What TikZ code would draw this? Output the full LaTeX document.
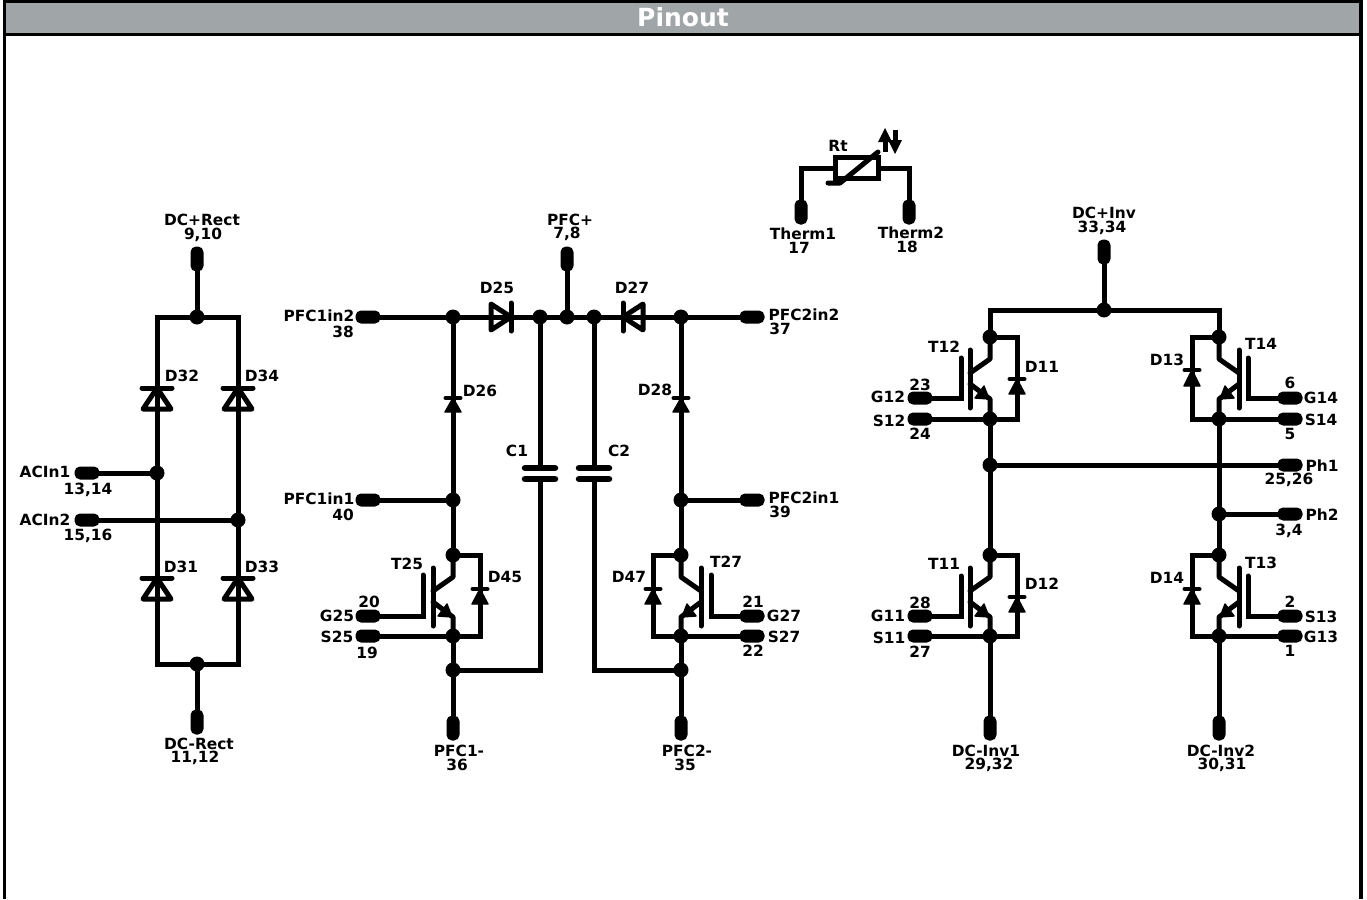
\documentclass[tikz,border=0pt]{standalone}
\usepackage{fontspec}
\setmainfont{DejaVu Sans}
\usetikzlibrary{calc}
\definecolor{hdr}{RGB}{160,165,167}
\tikzset{
  x=1pt,y=-1pt,
  wire/.style={line width=5pt,line cap=round,line join=miter},
  junc/.style={circle,fill=black,inner sep=0pt,minimum size=15pt},
  pinh/.style={rectangle,rounded corners=5.5pt,fill=black,inner sep=0pt,minimum width=25pt,minimum height=13pt},
  pinv/.style={rectangle,rounded corners=5.5pt,fill=black,inner sep=0pt,minimum width=13pt,minimum height=25pt},
  lbl/.style={font=\fontsize{15.4}{15}\selectfont\bfseries,inner sep=0pt,text=black},
}
% big hollow diode, vertical: x, y of bar, y of base
\newcommand{\bigdiode}[3]{%
  \draw[line width=5pt,line cap=round] (#1-15,#2)--(#1+15,#2);
  \draw[line width=5pt,line join=round,line cap=round] (#1,#2)--(#1-14,#3)--(#1+14,#3)--cycle;
}
% small filled diode, vertical
\newcommand{\smdiode}[3]{%
  \draw[line width=4pt,line cap=round] (#1-7.5,#2)--(#1+7.5,#2);
  \fill[line join=round,draw=black,line width=1.4pt] (#1,#2)--(#1-8,#3)--(#1+8,#3)--cycle;
}
% IGBT: x, y top, dir (-1 gate on the left, 1 gate on the right)
\newcommand{\igbt}[3]{%
  \begin{scope}[shift={(#1,#2)},xscale=#3]
    \draw[wire,line join=round] (0,0)--(0,22)--(20,36);
    \draw[wire] (20,13)--(20,71);
    \draw[wire,line join=round] (20,47)--(0,62)--(0,81);
    \fill[line join=round,draw=black,line width=1.4pt] (1,62)--(15,61)--(6,49)--cycle;
  \end{scope}%
}
\begin{document}
\begin{tikzpicture}
\useasboundingbox (0,0) rectangle (1367,899);
% frame and header
\fill[black] (2.5,0) rectangle (1362.5,36);
\fill[hdr] (6,3) rectangle (1359,33);
\draw[line width=3.8pt] (4.4,30)--(4.4,899);
\draw[line width=3.8pt] (1360.6,30)--(1360.6,899);
\node[font=\fontsize{25}{25}\selectfont\bfseries,text=white,inner sep=0pt] (title) at (683,17) {Pinout};

% ---------- rectifier ----------
\node[junc] (rt) at (197,317) {};
\node[junc] (rb) at (197,664) {};
\node[junc] (a1) at (157,473) {};
\node[junc] (a2) at (238,520) {};
\node[pinv] (pdcp) at (197,259) {};
\node[pinv] (pdcm) at (197,722) {};
\node[pinh] (pac1) at (87,473) {};
\node[pinh] (pac2) at (87,520) {};
\draw[wire] (pdcp)--(rt);
\draw[wire] (pdcm)--(rb);
\draw[wire] (rb)-|(a1)|-(rt);
\draw[wire] (rb)-|(a2)|-(rt);
\draw[wire] (pac1)--(a1);
\draw[wire] (pac2)--(a2);
\bigdiode{157}{388}{409}
\bigdiode{238}{388}{409}
\bigdiode{157}{578}{599}
\bigdiode{238}{578}{599}
\node[lbl] at (202,220) {DC+Rect};
\node[lbl] at (203,235) {9,10};
\node[lbl] at (199,744) {DC-Rect};
\node[lbl] at (195,758) {11,12};
\node[lbl] at (45,472) {ACIn1};
\node[lbl] at (88,490) {13,14};
\node[lbl] at (45,520) {ACIn2};
\node[lbl] at (88,536) {15,16};
\node[lbl] at (182,376) {D32};
\node[lbl] at (262,376) {D34};
\node[lbl] at (181,567) {D31};
\node[lbl] at (262,567) {D33};

% ---------- PFC ----------
\node[junc] (j1) at (453,317) {};
\node[junc] (j2) at (540,317) {};
\node[junc] (j3) at (567,317) {};
\node[junc] (j4) at (594,317) {};
\node[junc] (j5) at (681,317) {};
\node[junc] (k1) at (453,500) {};
\node[junc] (k2) at (681,500) {};
\node[junc] (t25t) at (453,555) {};
\node[junc] (t25b) at (453,636) {};
\node[junc] (m1) at (453,670) {};
\node[junc] (t27t) at (681,555) {};
\node[junc] (t27b) at (681,636) {};
\node[junc] (m2) at (681,670) {};
\node[pinh] (p38) at (368,317) {};
\node[pinh] (p37) at (752,317) {};
\node[pinv] (pp) at (567,259) {};
\node[pinh] (p40) at (368,500) {};
\node[pinh] (p39) at (752,500) {};
\node[pinh] (g25) at (368,616) {};
\node[pinh] (s25) at (368,636) {};
\node[pinh] (g27) at (752,616) {};
\node[pinh] (s27) at (752,636) {};
\node[pinv] (p36) at (453,728) {};
\node[pinv] (p35) at (681,728) {};
\draw[wire] (p38)--(p37);
\draw[wire] (pp)--(j3);
\draw[wire] (j1)--(t25t);
\draw[wire] (j5)--(t27t);
\draw[wire] (p40)--(k1);
\draw[wire] (p39)--(k2);
\draw[wire] (t25b)--(p36);
\draw[wire] (t27b)--(p35);
\draw[wire] (s25)--(t25b);
\draw[wire] (s27)--(t27b);
\draw[wire] (t25t)-|(480,636)--(t25b);
\draw[wire] (t27t)-|(653,636)--(t27b);
\igbt{453}{555}{-1}
\igbt{681}{555}{1}
\draw[wire] (g25)-|(423,575);
\draw[wire] (g27)-|(711,575);
\draw[wire] (j2)--(540,468);
\draw[wire] (540,479)--(540,670)--(m1);
\draw[wire] (j4)--(594,468);
\draw[wire] (594,479)--(594,670)--(m2);
\draw[line width=6.5pt,line cap=round] (525,468)--(555,468);
\draw[line width=6.5pt,line cap=round] (525,479)--(555,479);
\draw[line width=6.5pt,line cap=round] (579,468)--(609,468);
\draw[line width=6.5pt,line cap=round] (579,479)--(609,479);
% horizontal hollow diodes
\draw[line width=5pt,line cap=round] (511,303)--(511,331);
\draw[line width=5pt,line join=round] (511,317)--(491,304)--(491,330)--cycle;
\draw[line width=5pt,line cap=round] (623,303)--(623,331);
\draw[line width=5pt,line join=round] (623,317)--(643,304)--(643,330)--cycle;
\smdiode{453}{398}{412}
\smdiode{681}{398}{412}
\smdiode{480}{589}{604}
\smdiode{653}{589}{604}
\node[lbl] at (497,288) {D25};
\node[lbl] at (632,288) {D27};
\node[lbl] at (570,220) {PFC+};
\node[lbl] at (567,234) {7,8};
\node[lbl] at (319,316) {PFC1in2};
\node[lbl] at (343,332) {38};
\node[lbl] at (804,315) {PFC2in2};
\node[lbl] at (780,329) {37};
\node[lbl] at (480,391) {D26};
\node[lbl] at (655,390) {D28};
\node[lbl] at (517,451) {C1};
\node[lbl] at (619,451) {C2};
\node[lbl] at (319,499) {PFC1in1};
\node[lbl] at (343,515) {40};
\node[lbl] at (804,498) {PFC2in1};
\node[lbl] at (780,512) {39};
\node[lbl] at (407,564) {T25};
\node[lbl] at (505,577) {D45};
\node[lbl] at (629,577) {D47};
\node[lbl] at (726,562) {T27};
\node[lbl] at (369,602) {20};
\node[lbl] at (337,616) {G25};
\node[lbl] at (337,637) {S25};
\node[lbl] at (367,653) {19};
\node[lbl] at (753,602) {21};
\node[lbl] at (784,616) {G27};
\node[lbl] at (784,637) {S27};
\node[lbl] at (753,651) {22};
\node[lbl] at (459,751) {PFC1-};
\node[lbl] at (457,765) {36};
\node[lbl] at (687,751) {PFC2-};
\node[lbl] at (685,765) {35};

% ---------- thermistor ----------
\node[pinv] (p17) at (801,212) {};
\node[pinv] (p18) at (909,212) {};
\node[draw,line width=5pt,inner sep=0pt,minimum width=43pt,minimum height=21pt] (rt1) at (856.5,168) {};
\draw[wire] (p17)|-(rt1);
\draw[wire] (p18)|-(rt1);
\draw[wire,line join=round] (828,183)--(840,183)--(878,152);
\draw[line width=5pt] (885,152)--(885,138);
\fill (878,142)--(885,128)--(892,142)--cycle;
\draw[line width=5pt] (895,130)--(895,144);
\fill (888,140)--(895,154)--(902,140)--cycle;
\node[lbl] at (838,146) {Rt};
\node[lbl] at (803,234) {Therm1};
\node[lbl] at (799,248) {17};
\node[lbl] at (911,233) {Therm2};
\node[lbl] at (907,247) {18};

% ---------- inverter ----------
\node[junc] (itop) at (1104,310) {};
\node[pinv] (p33) at (1104,252) {};
\node[junc] (t12t) at (990,337) {};
\node[junc] (t12b) at (990,419) {};
\node[junc] (ph1) at (990,465) {};
\node[junc] (t11t) at (990,555) {};
\node[junc] (t11b) at (990,636) {};
\node[junc] (t14t) at (1219,337) {};
\node[junc] (t14b) at (1219,419) {};
\node[junc] (ph2) at (1219,514) {};
\node[junc] (t13t) at (1219,555) {};
\node[junc] (t13b) at (1219,636) {};
\node[pinh] (g12) at (920,398) {};
\node[pinh] (s12) at (920,419) {};
\node[pinh] (g11) at (920,616) {};
\node[pinh] (s11) at (920,636) {};
\node[pinh] (g14) at (1290,398) {};
\node[pinh] (s14) at (1290,419) {};
\node[pinh] (g13) at (1290,616) {};
\node[pinh] (s13) at (1290,636) {};
\node[pinh] (pph1) at (1290,465) {};
\node[pinh] (pph2) at (1290,514) {};
\node[pinv] (p29) at (990,728) {};
\node[pinv] (p30) at (1219,728) {};
\draw[wire] (p33)--(itop);
\draw[wire] (t12t)|-(itop);
\draw[wire] (t14t)|-(itop);
\draw[wire] (t12b)--(t11t);
\draw[wire] (t14b)--(t13t);
\draw[wire] (t11b)--(p29);
\draw[wire] (t13b)--(p30);
\draw[wire] (ph1)--(pph1);
\draw[wire] (ph2)--(pph2);
\draw[wire] (s12)--(t12b);
\draw[wire] (s11)--(t11b);
\draw[wire] (s14)--(t14b);
\draw[wire] (s13)--(t13b);
\draw[wire] (t12t)-|(1017,419)--(t12b);
\draw[wire] (t11t)-|(1017,636)--(t11b);
\draw[wire] (t14t)-|(1192,419)--(t14b);
\draw[wire] (t13t)-|(1192,636)--(t13b);
\igbt{990}{337}{-1}
\igbt{990}{555}{-1}
\igbt{1219}{337}{1}
\igbt{1219}{555}{1}
\draw[wire] (g12)-|(961,358);
\draw[wire] (g11)-|(961,576);
\draw[wire] (g14)-|(1248,358);
\draw[wire] (g13)-|(1248,576);
\smdiode{1017}{379}{394}
\smdiode{1017}{597}{612}
\smdiode{1192}{370}{386}
\smdiode{1192}{589}{604}
\node[lbl] at (1104,213) {DC+Inv};
\node[lbl] at (1102,228) {33,34};
\node[lbl] at (944,347) {T12};
\node[lbl] at (1042,367) {D11};
\node[lbl] at (1167,360) {D13};
\node[lbl] at (1261,344) {T14};
\node[lbl] at (920,385) {23};
\node[lbl] at (888,397) {G12};
\node[lbl] at (889,421) {S12};
\node[lbl] at (920,434) {24};
\node[lbl] at (1290,383) {6};
\node[lbl] at (1321,398) {G14};
\node[lbl] at (1321,420) {S14};
\node[lbl] at (1290,434) {5};
\node[lbl] at (1322,466) {Ph1};
\node[lbl] at (1289,480) {25,26};
\node[lbl] at (1322,515) {Ph2};
\node[lbl] at (1289,531) {3,4};
\node[lbl] at (944,564) {T11};
\node[lbl] at (1042,584) {D12};
\node[lbl] at (1167,578) {D14};
\node[lbl] at (1261,563) {T13};
\node[lbl] at (920,603) {28};
\node[lbl] at (888,616) {G11};
\node[lbl] at (889,638) {S11};
\node[lbl] at (920,652) {27};
\node[lbl] at (1290,602) {2};
\node[lbl] at (1321,617) {S13};
\node[lbl] at (1321,637) {G13};
\node[lbl] at (1290,651) {1};
\node[lbl] at (986,751) {DC-Inv1};
\node[lbl] at (989,765) {29,32};
\node[lbl] at (1221,751) {DC-Inv2};
\node[lbl] at (1222,765) {30,31};
\end{tikzpicture}
\end{document}
